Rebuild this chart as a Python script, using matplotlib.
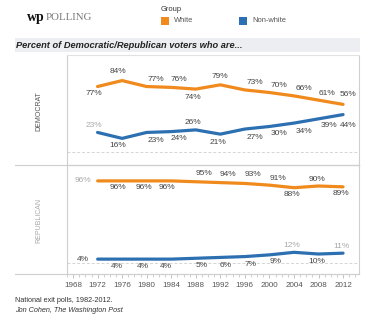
import matplotlib
matplotlib.use("Agg")
import matplotlib.pyplot as plt
from matplotlib.lines import Line2D
from matplotlib.patches import Rectangle

# ---------------- data ----------------
years = [1972, 1976, 1980, 1984, 1988, 1992, 1996, 2000, 2004, 2008, 2012]
dem_white = [77, 84, 77, 76, 74, 79, 73, 70, 66, 61, 56]
dem_nonwhite = [23, 16, 23, 24, 26, 21, 27, 30, 34, 39, 44]
rep_white = [96, 96, 96, 96, 95, 94, 93, 91, 88, 90, 89]
rep_nonwhite = [4, 4, 4, 4, 5, 6, 7, 9, 12, 10, 11]
tick_years = list(range(1968, 2013, 4))
series_names = ["White", "Non-white"]
panel_names = ["DEMOCRAT", "REPUBLICAN"]

# ---------------- style ----------------
ORANGE = "#F08A1C"
BLUE = "#2C70B2"
GRID = "#CFCFCF"
TXT = "#444444"
LIGHT = "#AAAAAA"

# label offsets in pixels (dx, dy with dy positive = downward) per point
dw_off = [(-4, 7), (-4, -9), (9, -7), (8, -8), (-3, 8), (0, -8), (10, -7), (10, -7), (10, -7), (9, -7), (5, -10)]
dn_off = [(-4, -7), (-4, 7), (9, 8), (8, 7), (-3, -7), (-2, 8), (10, 8), (10, 7), (10, 8), (10, 7), (5, 11)]
rw_off = [(-15, 0), (-4, 7), (-3, 7), (-4, 7), (8, -8), (8, -8), (8, -9), (9, -7), (-2, 7), (-2, -7), (-2, 7)]
rn_off = [(-15, 0), (-5, 7), (-4, 7), (-5, 7), (6, 7), (5, 8), (6, 8), (6, 7), (-2, -7), (-2, 7), (-2, -7)]
dn_light = {0}
rw_light = {0}
rn_light = {8, 10}

W, H = 375, 328
fig = plt.figure(figsize=(W / 100, H / 100), dpi=100)
fig.patch.set_facecolor("white")
plt.rcParams["font.family"] = ["Liberation Sans", "DejaVu Sans"]


def fx(px):
    return px / W


def fy(py):
    return 1 - py / H


L, R = 67, 359
ax1 = fig.add_axes([fx(L), fy(165), fx(R - L), (165 - 55) / H])
ax2 = fig.add_axes([fx(L), fy(274), fx(R - L), (274 - 165) / H])

for ax, ylim in ((ax1, (-15.3, 114.1)), (ax2, (-13.5, 114.7))):
    ax.set_xlim(1967.02, 2014.6)
    ax.set_ylim(*ylim)
    ax.set_yticks([])
    for s in ax.spines.values():
        s.set_color(GRID)
        s.set_linewidth(0.8)
    ax.axhline(0, color="#D5D5D5", lw=0.7, ls=(0, (3, 2)), zorder=1)
    ax.patch.set_alpha(0)
ax1.spines["top"].set_color("#E2E2E2")

ax1.set_xticks([])
ax2.set_xticks(tick_years)
ax2.set_xticks(range(1967, 2015), minor=True)
ax2.tick_params(axis="x", which="major", length=3, width=0.6, color="#BBBBBB",
                labelsize=5.8, labelcolor="#555555", pad=3)
ax2.tick_params(axis="x", which="minor", length=2, width=0.5, color="#BBBBBB")


def draw(ax, vals, color, offs, light):
    ax.plot(years, vals, color=color, lw=2.3, solid_capstyle="round", zorder=3)
    for i, (x, v) in enumerate(zip(years, vals)):
        dx, dy = offs[i]
        ax.annotate(f"{v}%", (x, v), xytext=(dx, -dy), textcoords="offset pixels",
                    ha="center", va="center", fontsize=6.0,
                    color=LIGHT if i in light else TXT, zorder=4)


draw(ax1, dem_white, ORANGE, dw_off, set())
draw(ax1, dem_nonwhite, BLUE, dn_off, dn_light)
draw(ax2, rep_white, ORANGE, rw_off, rw_light)
draw(ax2, rep_nonwhite, BLUE, rn_off, rn_light)

# extra frame lines spanning the label column
for py in (165, 274):
    fig.add_artist(Line2D([fx(15), fx(R)], [fy(py), fy(py)], color=GRID, lw=0.8))

# panel labels
fig.text(fx(39), fy(111), panel_names[0], rotation=90, ha="center", va="center",
         fontsize=5.0, color="#555555")
fig.text(fx(39), fy(220), panel_names[1], rotation=90, ha="center", va="center",
         fontsize=5.0, color="#AAAAAA")

# title band
fig.add_artist(Rectangle((fx(15), fy(52)), fx(360 - 15), (52 - 38) / H,
                         facecolor="#ECEEF1", edgecolor="none"))
fig.text(fx(16), fy(45.5), "Percent of Democratic/Republican voters who are...",
         fontsize=6.7, fontweight="bold", fontstyle="italic", color="#222222",
         ha="left", va="center")

# logo
fig.text(fx(27), fy(17), "wp", fontsize=10, fontweight="bold",
         family=["Liberation Serif", "DejaVu Serif"], color="#111111",
         ha="left", va="center")
fig.text(fx(46), fy(17), "POLLING", fontsize=7.8,
         family=["Liberation Serif", "DejaVu Serif"], color="#777777",
         ha="left", va="center")

# legend
fig.text(fx(161), fy(9.5), "Group", fontsize=5.4, color="#333333", ha="left", va="center")
for sx, col, name in ((161, ORANGE, series_names[0]), (239, BLUE, series_names[1])):
    fig.add_artist(Rectangle((fx(sx), fy(24.5)), fx(7.5), 7.5 / H,
                             facecolor=col, edgecolor="none"))
    fig.text(fx(sx + 13), fy(21), name, fontsize=5.4, color="#555555",
             ha="left", va="center")

# footnote
fig.text(fx(15), fy(300), "National exit polls, 1982-2012.", fontsize=5.2,
         color="#333333", ha="left", va="center")
fig.text(fx(15), fy(311), "Jon Cohen, The Washington Post", fontsize=5.2,
         fontstyle="italic", color="#333333", ha="left", va="center")

fig.savefig("out.png", dpi=100, facecolor="white")
